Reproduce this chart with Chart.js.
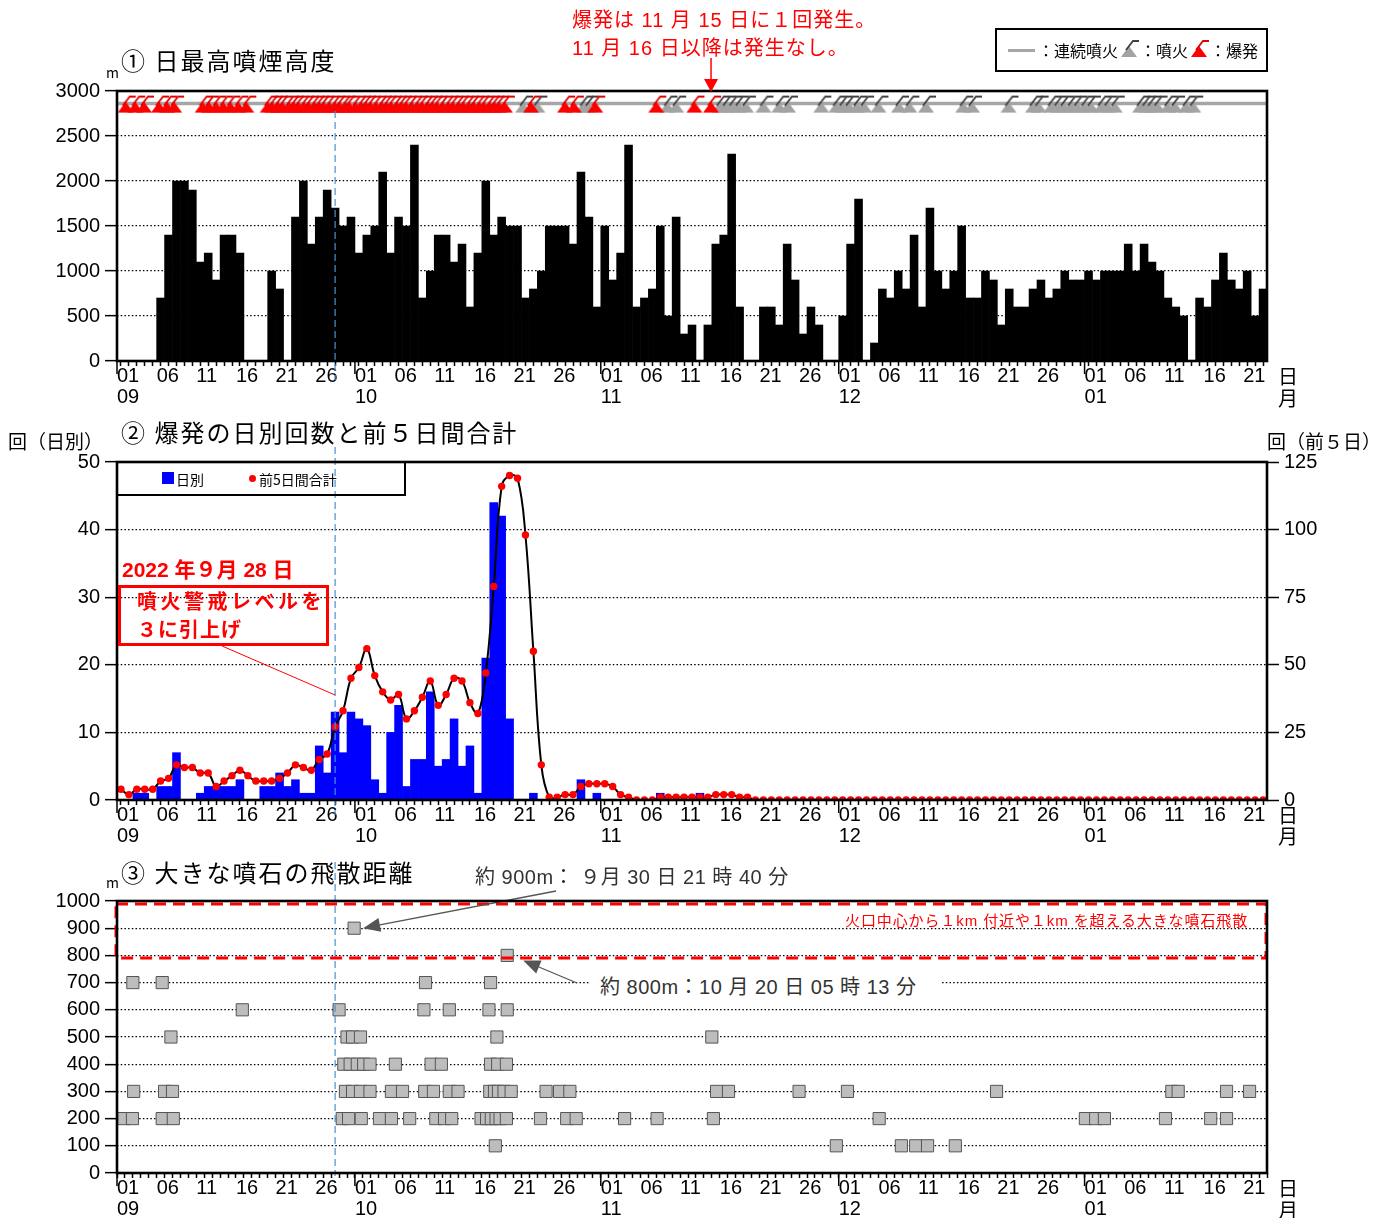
<!DOCTYPE html>
<html lang="ja">
<head>
<meta charset="utf-8">
<title>噴火活動の推移</title>
<script src="https://cdn.jsdelivr.net/npm/chart.js@4.4.1/dist/chart.umd.min.js"></script>
<style>
  html, body { margin: 0; padding: 0; background: #fff; }
  #page { position: relative; width: 1400px; height: 1218px; overflow: hidden; }
  #page canvas { position: absolute; left: 0; top: 0; }
  .txt { position: absolute; white-space: nowrap; line-height: 1; color: #000;
         font-family: 'Liberation Sans', 'Noto Sans CJK JP', sans-serif;
         transform: translateY(-50%); }
  .jp { font-family: 'Noto Sans CJK JP', sans-serif; }
  .red { color: #ff0000; }
  .box { position: absolute; box-sizing: border-box; }
  .legend1 { left: 995px; top: 28px; width: 273px; height: 44px; border: 2.5px solid #000;
             display: flex; align-items: center; padding-left: 11px;
             font: 16px 'Noto Sans CJK JP', sans-serif; }
  .legend1 .gline { display: inline-block; width: 27px; height: 3px; background: #a6a6a6; margin-right: 3px; }
  .legend1 canvas { position: static !important; margin: 0; }
  .legend2 { left: 116px; top: 461px; width: 290px; height: 35px; border: 2.5px solid #000;
             font: 14px 'Noto Sans CJK JP', sans-serif; }
  .legend2 .sq { position: absolute; left: 44px; top: 9px; width: 12px; height: 12px; background: #0000ff; }
  .legend2 .dot { position: absolute; left: 131px; top: 12px; width: 7px; height: 7px; border-radius: 50%; background: #ff0000; }
  .alert { left: 118px; top: 585px; width: 211px; height: 61px; border: 3px solid #ff0000; }
</style>
</head>
<body>
<div id="page">
  <canvas id="heightChart" width="1400" height="1218"></canvas>
  <canvas id="explosionChart" width="1400" height="1218"></canvas>
  <canvas id="ejectaChart" width="1400" height="1218"></canvas>

  <!-- ① -->
  <div class="txt red" style="left:572px; top:20px; font-size:20px; letter-spacing:1px;">爆発は 11 月 15 日に１回発生。</div>
  <div class="txt red" style="left:572px; top:48px; font-size:20px; letter-spacing:1px;">11 月 16 日以降は発生なし。</div>
  <div class="txt jp" style="left:106px; top:72px; font-size:14px;">m</div>
  <div class="txt jp" style="left:121px; top:60px; font-size:24px; letter-spacing:2px;">① 日最高噴煙高度</div>
  <div class="box legend1">
    <span class="gline"></span><span>：連続噴火</span><span id="legendGray"></span><span>：噴火</span><span id="legendRed"></span><span>：爆発</span>
  </div>
  <div class="txt jp" style="left:1278px; top:376px; font-size:20px;">日</div>
  <div class="txt jp" style="left:1278px; top:398px; font-size:20px;">月</div>

  <!-- ② -->
  <div class="txt jp" style="left:8px; top:440px; font-size:19px;">回（日別）</div>
  <div class="txt jp" style="left:121px; top:432px; font-size:24px; letter-spacing:2px;">② 爆発の日別回数と前５日間合計</div>
  <div class="txt jp" style="left:1267px; top:440px; font-size:19px;">回（前５日）</div>
  <div class="box legend2">
    <span class="sq"></span><span class="txt jp" style="left:58px; top:16px;">日別</span>
    <span class="dot"></span><span class="txt jp" style="left:141px; top:16px;">前5日間合計</span>
  </div>
  <div class="txt red" style="left:122px; top:569px; font-size:21px; font-weight:bold;">2022 年９月 28 日</div>
  <div class="box alert"></div>
  <div class="txt red jp" style="left:137px; top:601px; font-size:20px; font-weight:bold; letter-spacing:3.5px;">噴火警戒レベルを</div>
  <div class="txt red jp" style="left:137px; top:629px; font-size:20px; font-weight:bold; letter-spacing:1px;">３に引上げ</div>
  <div class="txt jp" style="left:1278px; top:815px; font-size:20px;">日</div>
  <div class="txt jp" style="left:1278px; top:836px; font-size:20px;">月</div>

  <!-- ③ -->
  <div class="txt jp" style="left:106px; top:882px; font-size:14px;">m</div>
  <div class="txt jp" style="left:121px; top:872px; font-size:24px; letter-spacing:2px;">③ 大きな噴石の飛散距離</div>
  <div class="txt" style="left:475px; top:877px; font-size:20px; color:#333; letter-spacing:0.5px;">約 900m： ９月 30 日 21 時 40 分</div>
  <div class="txt" style="left:590px; top:987px; font-size:20px; color:#333; letter-spacing:0.5px; background:#fff; padding:2px 24px 2px 10px;">約 800m：10 月 20 日 05 時 13 分</div>
  <div class="txt red" style="left:845px; top:920px; font-size:15px; letter-spacing:0.9px;">火口中心から１km 付近や１km を超える大きな噴石飛散</div>
  <div class="txt jp" style="left:1278px; top:1188px; font-size:20px;">日</div>
  <div class="txt jp" style="left:1278px; top:1210px; font-size:20px;">月</div>
</div>

<script>
// Day axis: 0 = 2022-09-01, 145 = end of 2023-01-23
const DAYS = 145;
const monthNames = ['09', '10', '11', '12', '01'];
const monthLengths = [30, 31, 30, 31, 31];
const labelDates = [1, 6, 11, 16, 21, 26];

// ① daily maximum plume height above the crater (m)
const plumeHeight = [
  0, 0, 0, 0, 0, 700, 1400, 2000, 2000, 1900,
  1100, 1200, 900, 1400, 1400, 1200, 0, 0, 0, 1000,
  800, 0, 1600, 2000, 1300, 1600, 1900, 1700, 1500, 1600,
  1200, 1400, 1500, 2100, 1200, 1600, 1500, 2400, 700, 1000,
  1400, 1400, 1100, 1300, 600, 1200, 2000, 1400, 1600, 1500,
  1500, 700, 800, 1000, 1500, 1500, 1500, 1300, 2100, 1600,
  600, 1500, 900, 1200, 2400, 600, 700, 800, 1500, 500,
  1600, 300, 400, 0, 400, 1300, 1400, 2300, 600, 0,
  0, 600, 600, 400, 1300, 900, 300, 600, 400, 0,
  0, 500, 1300, 1800, 0, 200, 800, 700, 1000, 800,
  1400, 600, 1700, 1000, 800, 1000, 1500, 700, 700, 1000,
  900, 400, 800, 600, 600, 800, 900, 700, 800, 1000,
  900, 900, 1000, 900, 1000, 1000, 1000, 1300, 1000, 1300,
  1100, 1000, 700, 600, 500, 0, 700, 600, 900, 1200,
  900, 800, 1000, 500, 800
];

// event marks on the top row (day + fraction of the day)
const explosionTimes = [
  1.1, 2.3, 3.4, 5.3, 6.3, 7.2,
  10.8, 11.6, 12.5, 13.4, 14.3, 15.3, 16.3,
  19.0, 19.6, 20.3, 20.9, 21.7, 22.3, 22.9, 23.6, 24.2, 24.9,
  25.5, 26.1, 26.8, 27.5, 28.1, 28.8, 29.3, 30.1, 30.8, 31.4,
  32.0, 32.7, 33.4, 34.0, 34.6, 35.3, 35.9, 36.5, 37.2, 37.9,
  38.5, 39.2, 39.8, 40.4, 41.1, 41.8, 42.4, 43.1, 43.7, 44.4,
  45.0, 45.7, 46.3, 47.0, 47.6, 48.2, 48.9,
  52.2, 56.5, 57.6, 60.3, 68.0, 72.8, 74.9
];
const eruptionTimes = [
  51.2, 53.0, 58.8, 59.5, 69.4, 70.5,
  76.0, 76.8, 77.6, 78.4, 79.3, 81.5, 83.5, 84.6, 88.8,
  90.7, 91.5, 92.3, 93.3, 94.2, 96.0, 98.6, 99.9, 102.0,
  106.7, 107.8, 112.4, 115.5, 116.2, 117.8, 118.6, 119.4, 120.3,
  121.1, 122.0, 122.8, 124.1, 124.9, 125.8, 129.0, 129.7, 130.4,
  131.2, 132.5, 133.4, 134.8, 135.7
];
const continuousSpan = [0, 145];

// ② explosions per day and the running total of the previous 5 days
const dailyExplosions = [
  0, 0, 1, 1, 0, 2, 2, 7, 0, 0,
  1, 2, 2, 2, 2, 3, 0, 0, 2, 2,
  4, 2, 3, 1, 1, 8, 4, 13, 7, 13,
  12, 11, 3, 1, 10, 14, 2, 6, 6, 16,
  5, 6, 12, 5, 8, 1, 21, 44, 42, 12,
  0, 0, 1, 0, 0, 0, 0, 0, 3, 0,
  1, 0, 0, 0, 0, 0, 0, 0, 1, 0,
  0, 0, 0, 1, 0, 0, 0, 0, 0, 0,
  0, 0, 0, 0, 0, 0, 0, 0, 0, 0,
  0, 0, 0, 0, 0, 0, 0, 0, 0, 0,
  0, 0, 0, 0, 0, 0, 0, 0, 0, 0,
  0, 0, 0, 0, 0, 0, 0, 0, 0, 0,
  0, 0, 0, 0, 0, 0, 0, 0, 0, 0,
  0, 0, 0, 0, 0, 0, 0, 0, 0, 0,
  0, 0, 0, 0, 0
];
const fiveDayTotal = [
  4, 2, 4, 4, 4, 7, 8, 13, 12, 12,
  10, 10, 5, 7, 9, 11, 9, 7, 7, 7,
  8, 10, 13, 12, 11, 15, 17, 27, 33, 45,
  49, 56, 46, 40, 37, 39, 30, 33, 38, 44,
  35, 39, 45, 44, 36, 32, 47, 79, 116, 120,
  119, 98, 55, 13, 1, 1, 2, 2, 5, 6,
  6, 6, 5, 2, 1, 0, 0, 0, 1, 1,
  1, 1, 1, 1, 1, 2, 2, 2, 1, 1,
  0, 0, 0, 0, 0, 0, 0, 0, 0, 0,
  0, 0, 0, 0, 0, 0, 0, 0, 0, 0,
  0, 0, 0, 0, 0, 0, 0, 0, 0, 0,
  0, 0, 0, 0, 0, 0, 0, 0, 0, 0,
  0, 0, 0, 0, 0, 0, 0, 0, 0, 0,
  0, 0, 0, 0, 0, 0, 0, 0, 0, 0,
  0, 0, 0, 0, 0
];

// ③ times of large ballistic blocks, grouped by reach from the crater (m)
const ejecta900 = [29.9];
const ejecta800 = [49.2];
const ejecta700 = [2.0, 5.7, 38.9, 47.1];
const ejecta600 = [15.8, 28.0, 38.7, 41.9, 46.9, 49.2];
const ejecta500 = [6.8, 29.0, 29.7, 30.7, 47.9, 75.0];
const ejecta400 = [28.6, 29.4, 30.3, 31.1, 31.9, 35.1, 39.6, 40.9, 47.1, 48.0, 49.1];
const ejecta300 = [2.1, 6.0, 7.0, 28.8, 29.7, 30.7, 31.9, 34.6, 36.0, 38.8, 39.9, 41.9, 43.0,
  47.0, 47.6, 48.1, 48.8, 49.7, 54.1, 55.8, 57.1, 75.6, 77.1, 86.0, 92.1, 110.9,
  133.0, 133.8, 139.9, 142.8];
const ejecta200 = [0.85, 1.95, 5.7, 7.1, 28.4, 29.2, 30.8, 33.1, 34.6, 36.9, 40.2, 41.3, 42.2,
  45.9, 46.6, 47.2, 47.8, 48.3, 49.1, 53.4, 56.7, 57.9, 64.0, 68.1, 75.2, 96.1,
  122.1, 123.4, 124.5, 132.2, 137.9, 139.9];
const ejecta100 = [47.7, 90.7, 98.9, 100.7, 102.2, 105.7];

// 2022-09-28: alert level raised to 3
const levelRaised = 27.5;

const TICK_FONT = "'Liberation Sans', Arial, sans-serif";
const ICON_ROW = 2860;

// axis labels: every 5 days, month number under the 1st
const pad = d => String(d).padStart(2, '0');
const tickText = {};
const monthStarts = [];
let offset = 0;
monthNames.forEach((m, k) => {
  monthStarts.push(offset);
  labelDates.forEach(d => {
    const i = offset + d - 1;
    if (i < DAYS) tickText[i] = d === 1 ? [pad(d), m] : pad(d);
  });
  offset += monthLengths[k];
});

// small volcano glyph used for eruption / explosion marks
function volcanoIcon(fill, plume) {
  const c = document.createElement('canvas');
  c.width = 22; c.height = 22;
  const g = c.getContext('2d');
  g.fillStyle = fill;
  g.beginPath(); g.moveTo(3, 20); g.lineTo(11, 9); g.lineTo(19, 20); g.closePath(); g.fill();
  g.strokeStyle = plume; g.lineWidth = 1.8;
  g.beginPath(); g.moveTo(8, 13); g.lineTo(15, 4); g.lineTo(21, 4); g.stroke();
  return c;
}
const grayIcon = volcanoIcon('#a3a3a3', '#404040');
const redIcon = volcanoIcon('#ff0000', '#e00000');
document.getElementById('legendGray').appendChild(volcanoIcon('#a3a3a3', '#404040'));
document.getElementById('legendRed').appendChild(volcanoIcon('#ff0000', '#e00000'));

function dayAxis(height) {
  return {
    type: 'linear', position: 'bottom', min: 0, max: DAYS, offset: false,
    afterBuildTicks: s => { s.ticks = Array.from({ length: DAYS + 1 }, (_, i) => ({ value: i })); },
    afterFit: s => { s.height = height; },
    grid: { drawOnChartArea: false, drawTicks: true, tickLength: 5, tickWidth: 1.5, tickColor: '#000' },
    border: { display: false },
    ticks: {
      autoSkip: false, maxRotation: 0, minRotation: 0, align: 'start', padding: 0, color: '#000',
      font: { family: TICK_FONT, size: 20, lineHeight: 1.05 },
      callback: v => tickText[v] ?? ''
    }
  };
}

function valueAxis(max, step, extra) {
  return Object.assign({
    type: 'linear', position: 'left', min: 0, max: max,
    ticks: { stepSize: step, autoSkip: false, padding: 5, color: '#000',
             font: { family: TICK_FONT, size: 20 }, callback: v => String(v) },
    grid: { color: '#000', lineWidth: 1.3, tickLength: 12, tickWidth: 1.5, tickColor: '#000' },
    border: { display: false, dash: [1.5, 2.2] },
    afterFit: s => { s.width = 117; }
  }, extra || {});
}

// frame, month ticks and the alert-level line shared by all three panels
const panelPlugin = {
  id: 'panel',
  afterDatasetsDraw(chart, args, opts) {
    const { ctx, scales: { x } } = chart;
    const vx = x.getPixelForValue(levelRaised);
    ctx.save();
    ctx.strokeStyle = '#4a8fd8';
    ctx.lineWidth = 1.2;
    ctx.setLineDash([7, 4]);
    ctx.beginPath(); ctx.moveTo(vx, opts.lineTop); ctx.lineTo(vx, opts.lineBottom); ctx.stroke();
    ctx.restore();
  },
  afterDraw(chart) {
    const { ctx, chartArea: a, scales: { x } } = chart;
    ctx.save();
    ctx.strokeStyle = '#000';
    ctx.lineWidth = 1.5;
    monthStarts.forEach(d => {
      const px = x.getPixelForValue(d);
      ctx.beginPath(); ctx.moveTo(px, a.bottom); ctx.lineTo(px, a.bottom + 13); ctx.stroke();
    });
    ctx.lineWidth = 2.6;
    ctx.strokeRect(a.left, a.top, a.right - a.left, a.bottom - a.top);
    ctx.restore();
  }
};

const baseOptions = (padding, lineTop, lineBottom) => ({
  responsive: false, animation: false, devicePixelRatio: 1, events: [],
  layout: { padding: padding },
  plugins: { legend: { display: false }, tooltip: { enabled: false }, panel: { lineTop, lineBottom } }
});

// ① plume height
const lastExplosion = explosionTimes[explosionTimes.length - 1];
new Chart(document.getElementById('heightChart'), {
  type: 'bar',
  data: {
    datasets: [
      { type: 'line', data: continuousSpan.map(d => ({ x: d, y: ICON_ROW })),
        borderColor: '#a6a6a6', borderWidth: 3.5, pointRadius: 0, order: 3 },
      { type: 'line', showLine: false, data: eruptionTimes.map(d => ({ x: d, y: ICON_ROW })),
        pointStyle: grayIcon, pointRadius: 11, order: 2 },
      { type: 'line', showLine: false, data: explosionTimes.map(d => ({ x: d, y: ICON_ROW })),
        pointStyle: redIcon, pointRadius: 11, order: 1 },
      { type: 'bar', data: plumeHeight.map((h, i) => ({ x: i + 0.5, y: h })),
        backgroundColor: '#000', borderWidth: 0, barPercentage: 1, categoryPercentage: 1, order: 4 }
    ]
  },
  options: Object.assign(baseOptions({ top: 91, bottom: 807, left: 0, right: 133 }, 111, 380), {
    scales: { x: dayAxis(50), y: valueAxis(3000, 500) }
  }),
  plugins: [panelPlugin, {
    id: 'lastExplosionArrow',
    afterDraw(chart) {
      const { ctx, scales: { x } } = chart;
      const px = x.getPixelForValue(lastExplosion);
      ctx.save();
      ctx.strokeStyle = '#ff0000'; ctx.fillStyle = '#ff0000'; ctx.lineWidth = 1.5;
      ctx.beginPath(); ctx.moveTo(px, 58); ctx.lineTo(px, 80); ctx.stroke();
      ctx.beginPath(); ctx.moveTo(px - 7, 79); ctx.lineTo(px + 7, 79); ctx.lineTo(px, 92); ctx.closePath(); ctx.fill();
      ctx.restore();
    }
  }]
});

// ② explosion counts
new Chart(document.getElementById('explosionChart'), {
  type: 'bar',
  data: {
    datasets: [
      { type: 'line', data: fiveDayTotal.map((v, i) => ({ x: i + 0.5, y: v })), yAxisID: 'y2',
        borderColor: '#000', borderWidth: 2, tension: 0.4,
        pointRadius: 3.7, pointBackgroundColor: '#ff0000', pointBorderWidth: 0, order: 1 },
      { type: 'bar', data: dailyExplosions.map((v, i) => ({ x: i + 0.5, y: v })), yAxisID: 'y',
        backgroundColor: '#0000ff', borderWidth: 0, barPercentage: 1, categoryPercentage: 1, order: 2 }
    ]
  },
  options: Object.assign(baseOptions({ top: 462, bottom: 368, left: 0, right: 0 }, 447, 815), {
    scales: {
      x: dayAxis(50),
      y: valueAxis(50, 10),
      y2: valueAxis(125, 25, {
        position: 'right',
        grid: { drawOnChartArea: false, tickLength: 12, tickWidth: 1.5, tickColor: '#000' },
        afterFit: s => { s.width = 133; }
      })
    }
  }),
  plugins: [panelPlugin, {
    id: 'alertLeader',
    afterDraw(chart) {
      const { ctx, scales: { x } } = chart;
      ctx.save();
      ctx.strokeStyle = '#ff0000'; ctx.lineWidth = 1;
      ctx.beginPath(); ctx.moveTo(222, 646); ctx.lineTo(x.getPixelForValue(levelRaised), 695); ctx.stroke();
      ctx.restore();
    }
  }]
});

// ③ ballistic block reach
const ejectaPoints = [
  [900, ejecta900], [800, ejecta800], [700, ejecta700], [600, ejecta600], [500, ejecta500],
  [400, ejecta400], [300, ejecta300], [200, ejecta200], [100, ejecta100]
].flatMap(([m, days]) => days.map(d => ({ x: d, y: m })));

function arrow(ctx, x0, y0, x1, y1) {
  const ang = Math.atan2(y1 - y0, x1 - x0);
  const len = 17, half = 7;
  const bx = x1 - len * Math.cos(ang), by = y1 - len * Math.sin(ang);
  ctx.beginPath(); ctx.moveTo(x0, y0); ctx.lineTo(bx, by); ctx.stroke();
  ctx.beginPath();
  ctx.moveTo(x1, y1);
  ctx.lineTo(bx + half * Math.sin(ang), by - half * Math.cos(ang));
  ctx.lineTo(bx - half * Math.sin(ang), by + half * Math.cos(ang));
  ctx.closePath(); ctx.fill();
}

new Chart(document.getElementById('ejectaChart'), {
  type: 'scatter',
  data: {
    datasets: [{
      data: ejectaPoints, pointStyle: 'rect', pointRadius: 8.6,
      backgroundColor: '#bdbdbd', borderColor: '#555555', borderWidth: 1
    }]
  },
  options: Object.assign(baseOptions({ top: 901, bottom: 0, left: 0, right: 133 }, 862, 1176), {
    scales: { x: dayAxis(45), y: valueAxis(1000, 100) }
  }),
  plugins: [panelPlugin, {
    id: 'farReach',
    afterDatasetsDraw(chart) {
      const { ctx, chartArea: a, scales: { x, y } } = chart;
      ctx.save();
      // zone of blocks reaching about 1 km or beyond
      ctx.strokeStyle = '#ff0000'; ctx.lineWidth = 3; ctx.setLineDash([12, 7]);
      const top = y.getPixelForValue(1000) + 3, bottom = y.getPixelForValue(790);
      ctx.strokeRect(a.left - 1, top, a.right - a.left, bottom - top);
      ctx.setLineDash([]);
      // pointers to the two farthest events
      ctx.strokeStyle = '#555'; ctx.fillStyle = '#555'; ctx.lineWidth = 1.3;
      arrow(ctx, 556, 891, x.getPixelForValue(ejecta900[0]) + 9, y.getPixelForValue(900));
      arrow(ctx, 577, 983, x.getPixelForValue(ejecta800[0]) + 16, y.getPixelForValue(800) + 5);
      ctx.restore();
    }
  }]
});
</script>
</body>
</html>
